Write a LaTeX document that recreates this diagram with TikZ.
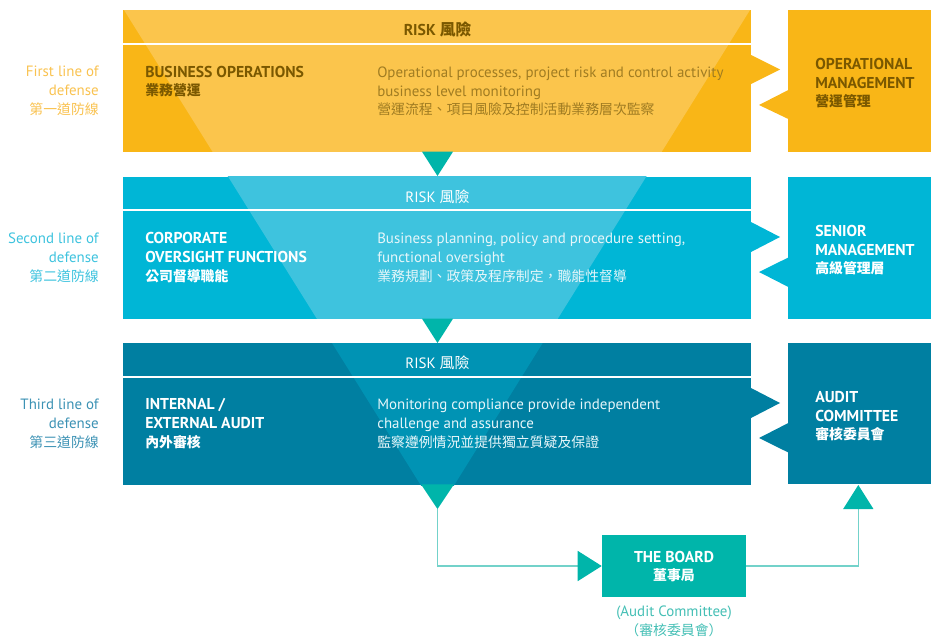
\documentclass[tikz,border=0pt]{standalone}
\usepackage{fontspec}
\setmainfont{PT Sans}
\newfontfamily\cjk{Noto Sans CJK TC}
\usetikzlibrary{arrows.meta}
\definecolor{yel}{HTML}{F9B617}
\definecolor{yell}{HTML}{FBC54C}
\definecolor{ytxt}{HTML}{7A5800}
\definecolor{ydesc}{HTML}{A07C22}
\definecolor{ylab}{HTML}{F9C250}
\definecolor{cya}{HTML}{00B6D6}
\definecolor{cyal}{HTML}{3EC3DE}
\definecolor{clab}{HTML}{3EC3DE}
\definecolor{blu}{HTML}{007FA1}
\definecolor{blul}{HTML}{0093B4}
\definecolor{blab}{HTML}{3C92B4}
\definecolor{tea}{HTML}{00B5AA}
\definecolor{tline}{HTML}{73D2CA}
\definecolor{tlab}{HTML}{45BFB5}
\definecolor{wdesc}{HTML}{E6F6FA}
\begin{document}
\begin{tikzpicture}[x=0.75pt,y=-0.75pt,
  every node/.style={inner sep=0pt},
  en/.style={font=\fontsize{11.2pt}{14pt}\selectfont},
  enb/.style={font=\fontsize{11.8pt}{14pt}\selectfont\bfseries},
  zh/.style={font=\fontsize{10.4pt}{14pt}\selectfont\cjk},
  zhb/.style={font=\fontsize{10.4pt}{14pt}\selectfont\cjk\bfseries},
  lft/.style={anchor=base west},
  rgt/.style={anchor=base east},
  mid/.style={anchor=base},
  conn/.style={draw=tline, line width=1pt},
  headtip/.style={-{Triangle[length=18pt,width=22.5pt,color=tea]}},
]
\useasboundingbox (0,0) rectangle (931,639);
% bands
\fill[yel] (123,10) rectangle (751,151.7);
\fill[cya] (123,176.7) rectangle (751,318.7);
\fill[blu] (123,343) rectangle (751,485);
\begin{scope}\clip (123,10) rectangle (751,151.7);
\fill[yell] (124,10)--(750,10)--(437.5,512)--cycle;\end{scope}
\begin{scope}\clip (123,176.7) rectangle (751,318.7);
\fill[cyal] (124,10)--(750,10)--(437.5,512)--cycle;\end{scope}
\begin{scope}\clip (123,343) rectangle (751,485);
\fill[blul] (124,10)--(750,10)--(437.5,512)--cycle;\end{scope}
% separators
\fill[white] (123,42.7) rectangle (751,44.7);
\fill[white] (123,209.3) rectangle (751,211.3);
\fill[white] (123,375.7) rectangle (751,377.7);
% notches on bands
\fill[yel] (751,55)--(780,69.5)--(751,84)--cycle;
\fill[cya] (751,222)--(780,237)--(751,252)--cycle;
\fill[blu] (751,388)--(780,403)--(751,418)--cycle;
% right boxes
\fill[yel] (788.3,10) rectangle (931,151.7);
\fill[yel] (788.3,90)--(759,105)--(788.3,119)--cycle;
\fill[cya] (788.3,176.7) rectangle (931,318.7);
\fill[cya] (788.3,257.5)--(759,272)--(788.3,287)--cycle;
\fill[blu] (788.3,343) rectangle (931,484.3);
\fill[blu] (788.3,423)--(759,438)--(788.3,452.5)--cycle;
% teal down triangles
\fill[tea] (422,151.7)--(453,151.7)--(437.5,176)--cycle;
\fill[tea] (422,318.7)--(453,318.7)--(437.5,343)--cycle;
\fill[tea] (421,484.3)--(454,484.3)--(437.5,509)--cycle;
\coordinate (tip3) at (437.5,509);
\coordinate (auditbot) at (858.3,485);
% board
\node[fill=tea, minimum width=108pt, minimum height=46.5pt] (board) at (674,566) {};
\draw[conn, headtip] (tip3) |- (board.west);
\draw[conn, headtip] (board.east) -| (auditbot);
% RISK strips
\node[enb, mid, text=ytxt] (risk1) at (437.5,35) {RISK {\cjk\bfseries 風險}};
\node[en, mid, text=white] (risk2) at (437.5,202) {RISK {\cjk 風險}};
\node[en, mid, text=white] (risk3) at (437.5,368) {RISK {\cjk 風險}};
% left labels
\node[en, rgt, text=ylab] (l1a) at (99,76.5) {First line of};
\node[en, rgt, text=ylab] (l1b) at (99,95.5) {defense};
\node[zh, rgt, text=ylab] (l1c) at (99,114.5) {第一道防線};
\node[en, rgt, text=clab] (l2a) at (99,243.5) {Second line of};
\node[en, rgt, text=clab] (l2b) at (99,262.5) {defense};
\node[zh, rgt, text=clab] (l2c) at (99,281.5) {第二道防線};
\node[en, rgt, text=blab] (l3a) at (99,409.5) {Third line of};
\node[en, rgt, text=blab] (l3b) at (99,428.5) {defense};
\node[zh, rgt, text=blab] (l3c) at (99,447.5) {第三道防線};
% band titles
\node[enb, lft, text=ytxt] (t1a) at (145,77) {BUSINESS OPERATIONS};
\node[zhb, lft, text=ytxt] (t1b) at (145,95.5) {業務營運};
\node[enb, lft, text=white] (t2a) at (145,243.5) {CORPORATE};
\node[enb, lft, text=white] (t2b) at (145,262.5) {OVERSIGHT FUNCTIONS};
\node[zhb, lft, text=white] (t2c) at (145,281.5) {公司督導職能};
\node[enb, lft, text=white] (t3a) at (145,409.5) {INTERNAL /};
\node[enb, lft, text=white] (t3b) at (145,428.5) {EXTERNAL AUDIT};
\node[zhb, lft, text=white] (t3c) at (145,447.5) {內外審核};
% descriptions
\node[en, lft, text=ydesc] (d1a) at (377,77) {Operational processes, project risk and control activity};
\node[en, lft, text=ydesc] (d1b) at (377,96) {business level monitoring};
\node[zh, lft, text=ydesc] (d1c) at (377,114.5) {營運流程、項目風險及控制活動業務層次監察};
\node[en, lft, text=wdesc] (d2a) at (377,243.5) {Business planning, policy and procedure setting,};
\node[en, lft, text=wdesc] (d2b) at (377,262.5) {functional oversight};
\node[zh, lft, text=wdesc] (d2c) at (377,281.5) {業務規劃、政策及程序制定，職能性督導};
\node[en, lft, text=wdesc] (d3a) at (377,409.5) {Monitoring compliance provide independent};
\node[en, lft, text=wdesc] (d3b) at (377,428.5) {challenge and assurance};
\node[zh, lft, text=wdesc] (d3c) at (377,447.5) {監察遵例情況並提供獨立質疑及保證};
% right box texts
\node[enb, lft, text=ytxt] (r1a) at (815,69) {OPERATIONAL};
\node[enb, lft, text=ytxt] (r1b) at (815,88) {MANAGEMENT};
\node[zhb, lft, text=ytxt] (r1c) at (815,106.5) {營運管理};
\node[enb, lft, text=white] (r2a) at (815,236) {SENIOR};
\node[enb, lft, text=white] (r2b) at (815,255) {MANAGEMENT};
\node[zhb, lft, text=white] (r2c) at (815,273.5) {高級管理層};
\node[enb, lft, text=white] (r3a) at (815,402) {AUDIT};
\node[enb, lft, text=white] (r3b) at (815,421) {COMMITTEE};
\node[zhb, lft, text=white] (r3c) at (815,439.5) {審核委員會};
% board texts
\node[enb, mid, text=white] (b1) at (674,562) {THE BOARD};
\node[zhb, mid, text=white] (b2) at (674,580.5) {董事局};
\node[en, mid, text=tlab] (b3) at (674,616) {(Audit Committee)};
\node[zh, mid, text=tlab] (b4) at (674,635) {（審核委員會）};
\end{tikzpicture}
\end{document}
